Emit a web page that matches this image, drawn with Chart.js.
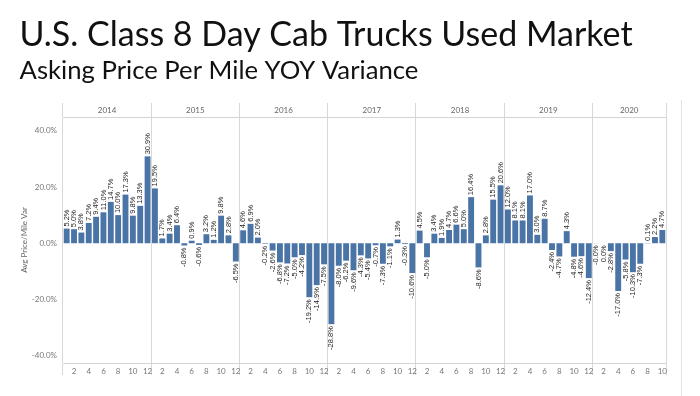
<!DOCTYPE html>
<html lang="en">
<head>
    <meta charset="UTF-8">
    <title>U.S. Class 8 Day Cab Trucks Used Market</title>
    <script src="https://cdn.jsdelivr.net/npm/chart.js"></script>
    <style>
        body { margin: 0; background: #fff; }
        #wrap { width: 700px; height: 396px; position: relative; }
    </style>
</head>
<body>
    <div id="wrap"><canvas id="chart"></canvas></div>
    <script>
        // YOY variance of asking price per mile, one array per year (in %)
        const years = [2014, 2015, 2016, 2017, 2018, 2019, 2020];
        const var2014 = [5.2, 5.0, 3.8, 7.2, 9.4, 11.0, 14.7, 10.0, 17.3, 9.8, 13.3, 30.9];
        const var2015 = [19.5, 1.7, 3.4, 6.4, -0.8, 0.9, -0.6, 3.2, 1.2, 9.8, 2.8, -6.5];
        const var2016 = [4.6, 6.9, 2.0, -0.2, -2.6, -6.8, -7.2, -5.0, -4.2, -19.2, -14.9, -7.5];
        const var2017 = [-28.8, -8.0, -6.2, -9.6, -4.3, -5.4, -0.7, -7.3, -1.1, 1.3, -0.3, -10.6];
        const var2018 = [4.5, -5.0, 3.4, 1.9, 4.7, 6.6, 5.0, 16.4, -8.6, 2.8, 15.5, 20.6];
        const var2019 = [12.0, 8.1, 8.1, 17.0, 3.0, 8.7, -2.4, -4.7, 4.3, -4.8, -4.6, -12.4];
        const var2020 = [-0.04, 0.0, -2.8, -17.0, -5.8, -10.3, -7.3, 0.1, 2.2, 4.7];
        const yearSeries = [var2014, var2015, var2016, var2017, var2018, var2019, var2020];

        // tick labels
        const yTickValues = [-40, -20, 0, 20, 40];
        const shownMonths = [2, 4, 6, 8, 10, 12];

        // flatten into one category per month
        const values = [];
        const monthOf = [];
        const yearOf = [];
        yearSeries.forEach((arr, k) => {
            arr.forEach((v, m) => {
                values.push(v);
                monthOf.push(m + 1);
                yearOf.push(years[k]);
            });
        });
        const monthLabels = monthOf.map((m, i) => yearOf[i] + '-' + m);

        const sepColor = '#d9d9d9';
        // vertical line only where a year starts (and at the far right end)
        function yearLine(c) {
            if (c.index === undefined || c.index >= monthOf.length) return sepColor;
            return monthOf[c.index] === 1 ? sepColor : 'rgba(0,0,0,0)';
        }

        const barLabels = {
            id: 'barLabels',
            afterDatasetsDraw(chart) {
                const ctx = chart.ctx;
                const meta = chart.getDatasetMeta(0);
                ctx.save();
                ctx.font = '7.5px "Liberation Sans"';
                ctx.fillStyle = '#1e1e1e';
                ctx.textBaseline = 'middle';
                meta.data.forEach((bar, i) => {
                    const v = values[i];
                    const up = v > 0;
                    ctx.save();
                    ctx.translate(bar.x, bar.y + (up ? -2 : 2));
                    ctx.rotate(-Math.PI / 2);
                    ctx.textAlign = up ? 'left' : 'right';
                    ctx.fillText(v.toFixed(1) + '%', 0, 0);
                    ctx.restore();
                });
                ctx.restore();
            }
        };

        const yearHeaders = {
            id: 'yearHeaders',
            afterDraw(chart) {
                const ctx = chart.ctx;
                const x = chart.scales.x;
                const top = chart.scales.x2;
                ctx.save();
                ctx.font = '8px Lato';
                ctx.fillStyle = '#666';
                ctx.textAlign = 'center';
                ctx.textBaseline = 'middle';
                years.forEach(yr => {
                    const first = yearOf.indexOf(yr);
                    const last = yearOf.lastIndexOf(yr);
                    const cx = (x.getPixelForValue(first) + x.getPixelForValue(last)) / 2;
                    ctx.fillText(String(yr), cx, (top.top + top.bottom) / 2 + 0.5);
                });
                // thin frame line on the right side of the view
                ctx.strokeStyle = '#e3e3e3';
                ctx.lineWidth = 1;
                ctx.beginPath();
                ctx.moveTo(chart.width - 18.5, top.top - 3);
                ctx.lineTo(chart.width - 18.5, chart.height);
                ctx.stroke();
                ctx.restore();
            }
        };

        new Chart(document.getElementById('chart'), {
            type: 'bar',
            data: {
                labels: monthLabels,
                datasets: [{
                    data: values,
                    backgroundColor: '#4b74a6',
                    barPercentage: 0.8,
                    categoryPercentage: 1.0
                }]
            },
            options: {
                responsive: true,
                maintainAspectRatio: false,
                animation: false,
                layout: { padding: { left: 19.5, right: 34, top: 0, bottom: 0 } },
                plugins: {
                    legend: { display: false },
                    tooltip: { enabled: false },
                    title: {
                        display: true,
                        text: 'U.S. Class 8 Day Cab Trucks Used Market',
                        align: 'start',
                        color: '#111',
                        font: { family: 'Lato', size: 34, weight: 'normal', lineHeight: 1 },
                        padding: { top: 18.1, bottom: 6.1 }
                    },
                    subtitle: {
                        display: true,
                        text: 'Asking Price Per Mile YOY Variance',
                        align: 'start',
                        color: '#111',
                        font: { family: 'Lato', size: 25.7, weight: 'normal', lineHeight: 1 },
                        padding: { top: 0, bottom: 19.1 }
                    }
                },
                scales: {
                    x: {
                        position: 'bottom',
                        offset: true,
                        grid: {
                            offset: true,
                            drawOnChartArea: false,
                            drawTicks: true,
                            tickLength: 12,
                            color: yearLine
                        },
                        border: { display: true, color: '#d4d4d4' },
                        ticks: {
                            autoSkip: false,
                            maxRotation: 0,
                            padding: -8,
                            color: '#777',
                            font: { family: 'Lato', size: 8 },
                            callback: (v, i) => shownMonths.includes(monthOf[i]) ? String(monthOf[i]) : ''
                        },
                        afterFit: s => { s.height = 33; }
                    },
                    x2: {
                        type: 'category',
                        labels: monthLabels,
                        position: 'top',
                        offset: true,
                        grid: {
                            offset: true,
                            drawOnChartArea: true,
                            drawTicks: true,
                            tickLength: 14,
                            color: yearLine
                        },
                        border: { display: true, color: '#d4d4d4' },
                        ticks: { display: false },
                        afterFit: s => { s.height = 14; }
                    },
                    y: {
                        min: -42.6,
                        max: 44.9,
                        grid: { display: false, drawTicks: false },
                        border: { display: false },
                        afterBuildTicks: s => { s.ticks = yTickValues.map(v => ({ value: v })); },
                        ticks: {
                            padding: 6,
                            color: '#777',
                            font: { family: 'Lato', size: 8 },
                            callback: v => v.toFixed(1) + '%'
                        },
                        title: {
                            display: true,
                            text: 'Avg Price/Mile Var',
                            color: '#666',
                            font: { family: 'Lato', size: 8 },
                            padding: { top: 0, bottom: 4 }
                        },
                        afterFit: s => { s.width = 43.5; }
                    }
                }
            },
            plugins: [barLabels, yearHeaders]
        });
    </script>
</body>
</html>
